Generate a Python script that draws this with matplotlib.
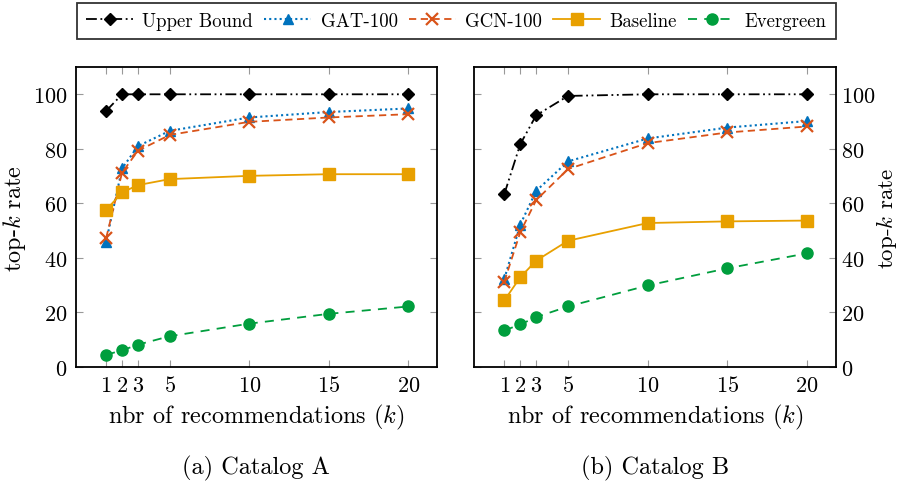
import numpy as np
import matplotlib
matplotlib.use("Agg")
import matplotlib.pyplot as plt
from matplotlib.lines import Line2D

plt.rcParams['font.family'] = 'serif'
plt.rcParams['font.serif'] = ['cmr10']
plt.rcParams['mathtext.fontset'] = 'cm'
plt.rcParams['axes.formatter.use_mathtext'] = True

# recommendations k
k = [1, 2, 3, 5, 10, 15, 20]

# Catalog A
upper_a = [93.9, 100, 100, 100, 100, 100, 100]
gat_a = [46.0, 72.8, 81.0, 86.6, 91.5, 93.5, 94.8]
gcn_a = [47.3, 71.3, 79.3, 85.1, 89.9, 91.5, 92.7]
base_a = [57.6, 64.0, 66.7, 68.9, 70.1, 70.7, 70.7]
ever_a = [4.5, 6.1, 8.2, 11.3, 15.9, 19.5, 22.2]

# Catalog B
upper_b = [63.4, 81.7, 92.3, 99.4, 100, 100, 100]
gat_b = [32.3, 52.2, 64.6, 75.4, 83.8, 87.8, 90.2]
gcn_b = [31.3, 49.4, 61.2, 72.6, 82.1, 86.0, 88.2]
base_b = [24.4, 32.9, 39.0, 46.3, 52.8, 53.4, 53.7]
ever_b = [13.4, 15.6, 18.3, 22.2, 29.9, 36.2, 41.7]

labels = ["Upper Bound", "GAT-100", "GCN-100", "Baseline", "Evergreen"]
yticks = [0, 20, 40, 60, 80, 100]

styles = [
    dict(color='black', marker='D', ms=6, ls=(0, (6, 2, 1, 2, 1, 2)), lw=1.3),
    dict(color='#0072BD', marker='^', ms=7, ls=(0, (1, 1.5)), lw=1.5),
    dict(color='#D95319', marker='x', ms=9, mew=1.6, ls=(0, (4, 2.5)), lw=1.3),
    dict(color='#E8A000', marker='s', ms=8, ls='-', lw=1.3),
    dict(color='#009E3D', marker='o', ms=8, ls=(0, (5, 4)), lw=1.3),
]

fig = plt.figure(figsize=(9, 4.89), dpi=100)
ax_a = fig.add_axes([0.0844, 0.2474, 0.401, 0.6135])
ax_b = fig.add_axes([0.5267, 0.2474, 0.402, 0.6135])

panels = [
    (ax_a, [upper_a, gat_a, gcn_a, base_a, ever_a], "(a) Catalog A", 'left'),
    (ax_b, [upper_b, gat_b, gcn_b, base_b, ever_b], "(b) Catalog B", 'right'),
]

for ax, series, caption, side in panels:
    for vals, st in zip(series, styles):
        ax.plot(k, vals, **st)
    ax.set_xlim(-0.9, 21.8)
    ax.set_ylim(0, 110)
    ax.set_xticks(k)
    ax.set_yticks(yticks)
    ax.tick_params(direction='in', length=5, width=0.8, color='#999999',
                   top=True, right=True, labelsize=16, pad=6)
    for sp in ax.spines.values():
        sp.set_linewidth(1.3)
    ax.set_xlabel("nbr of recommendations ($k$)", fontsize=17.5, labelpad=5)
    if side == 'right':
        ax.yaxis.set_label_position('right')
        ax.yaxis.tick_right()
        ax.tick_params(axis='y', left=True, labelleft=False, labelright=True,
                       pad=4)
        ax.set_ylabel("top-$k$ rate", fontsize=16.5)
        ax.yaxis.set_label_coords(1.105, 0.5)
    else:
        ax.set_ylabel("top-$k$ rate", fontsize=17.5, labelpad=4)
    ax.text(0.5, -0.335, caption, transform=ax.transAxes, ha='center',
            va='center', fontsize=17.5)

handles = [Line2D([], [], **st) for st in styles]
leg = fig.legend(handles, labels, loc='center', bbox_to_anchor=(0.507, 0.955),
                 ncol=5, frameon=True, fancybox=False, edgecolor='black',
                 fontsize=13.5, handlelength=2.5, columnspacing=0.6,
                 handletextpad=0.5, borderpad=0.5)
leg.get_frame().set_linewidth(1.3)

fig.savefig("out.png", dpi=100)
